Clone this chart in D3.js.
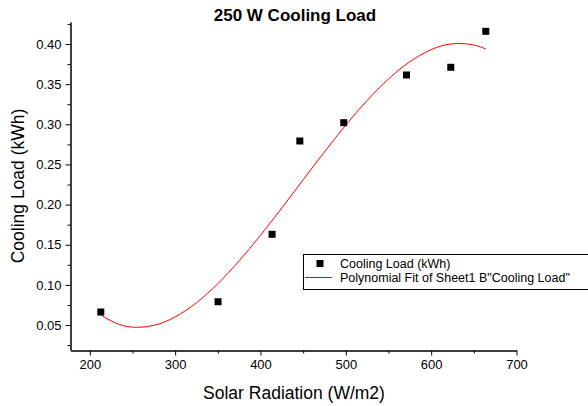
<!DOCTYPE html>
<html>
<head>
<meta charset="utf-8">
<script src="https://cdn.jsdelivr.net/npm/d3@7"></script>
<style>
body { margin:0; background:#fff; }
text { font-family: Arial, "Liberation Sans", sans-serif; }
</style>
</head>
<body>
<svg id="basicSVG" width="588" height="406"></svg>
<script>
// measured points
var solarRadiation = [212.9, 350.3, 413.6, 446.1, 497.6, 571.1, 623.0, 664.0];
var coolingLoad    = [0.0662, 0.0790, 0.1630, 0.2792, 0.3020, 0.3614, 0.3710, 0.4158];

// fit curve, values
var fitX = [212.9, 230, 250, 275, 300, 325, 350, 375, 400, 425, 450, 475, 500, 525, 550, 575, 600, 625, 650, 664];
var fitY = [0.0625, 0.0526, 0.0474, 0.0496, 0.0601, 0.0778, 0.1015, 0.1299, 0.1617, 0.1958, 0.2309, 0.2657,
            0.2991, 0.3297, 0.3564, 0.3779, 0.3930, 0.4003, 0.3988, 0.3936];

var xMajorTicks = [200, 300, 400, 500, 600, 700];
var xMinorTicks = [250, 350, 450, 550, 650];
var yMajorTicks = [0.05, 0.10, 0.15, 0.20, 0.25, 0.30, 0.35, 0.40];
var yMinorTicks = [0.025, 0.075, 0.125, 0.175, 0.225, 0.275, 0.325, 0.375, 0.425];

var legendLabels = ["Cooling Load (kWh)", "Polynomial Fit of Sheet1 B\"Cooling Load\""];

var svg = d3.select("#basicSVG");

var x = d3.scaleLinear().domain([177.4, 700]).range([70.5, 516.5]);
var y = d3.scaleLinear().domain([0.0189, 0.4274]).range([350, 22]);

// axes
svg.append("g").attr("transform", "translate(0,350.5)")
	.call(d3.axisBottom(x).tickValues(xMajorTicks).tickFormat(d3.format("d")).tickSize(5).tickSizeOuter(0).tickPadding(4));
svg.append("g").attr("transform", "translate(0,350.5)")
	.call(d3.axisBottom(x).tickValues(xMinorTicks).tickFormat("").tickSize(3).tickSizeOuter(0));

svg.append("g").attr("transform", "translate(70.5,0)")
	.call(d3.axisLeft(y).tickValues(yMajorTicks).tickFormat(d3.format(".2f")).tickSize(5).tickSizeOuter(0).tickPadding(4));
svg.append("g").attr("transform", "translate(70.5,0)")
	.call(d3.axisLeft(y).tickValues(yMinorTicks).tickFormat("").tickSize(3).tickSizeOuter(0));

svg.selectAll(".tick text").attr("font-size", 13).attr("fill", "#000").attr("font-family", "Arial, 'Liberation Sans', sans-serif");
svg.selectAll(".domain, .tick line").attr("stroke", "#000");

// fit line
var fitData = fitX.map(function(d, i) { return [d, fitY[i]]; });
var line = d3.line()
	.x(function(d) { return x(d[0]); })
	.y(function(d) { return y(d[1]); })
	.curve(d3.curveNatural);
svg.append("path").datum(fitData)
	.attr("d", line)
	.attr("fill", "none")
	.attr("stroke", "#ff0000")
	.attr("stroke-width", 1);

// points
var pts = solarRadiation.map(function(d, i) { return [d, coolingLoad[i]]; });
svg.selectAll("rect.pt").data(pts).enter().append("rect")
	.attr("class", "pt")
	.attr("x", function(d) { return x(d[0]) - 3.5; })
	.attr("y", function(d) { return y(d[1]) - 3.5; })
	.attr("width", 7)
	.attr("height", 7)
	.attr("fill", "#000");

// titles
svg.append("text").attr("x", 295).attr("y", 21).attr("text-anchor", "middle")
	.attr("font-size", 17).attr("font-weight", "bold").text("250 W Cooling Load");
svg.append("text").attr("x", 294).attr("y", 399).attr("text-anchor", "middle")
	.attr("font-size", 17.5).text("Solar Radiation (W/m2)");
svg.append("text").attr("transform", "translate(24,186) rotate(-90)").attr("text-anchor", "middle")
	.attr("font-size", 17.5).text("Cooling Load (kWh)");

// legend
var lg = svg.append("g");
lg.append("rect")
	.attr("x", 303.5)
	.attr("y", 254.5)
	.attr("width", 300)
	.attr("height", 35)
	.attr("fill", "#fff")
	.attr("stroke", "#000")
	.attr("stroke-width", 1);
lg.append("rect").attr("x", 316.5).attr("y", 260).attr("width", 7).attr("height", 7).attr("fill", "#000");
lg.append("line")
	.attr("x1", 305).attr("x2", 332)
	.attr("y1", 277.5).attr("y2", 277.5)
	.attr("stroke", "#ff0000").attr("stroke-width", 1);
lg.selectAll("text").data(legendLabels).enter().append("text")
	.attr("x", 340)
	.attr("y", function(d, i) { return 263.5 + i * 14; })
	.attr("dy", "0.35em")
	.attr("font-size", 12.5)
	.text(function(d) { return d; });
</script>
</body>
</html>
